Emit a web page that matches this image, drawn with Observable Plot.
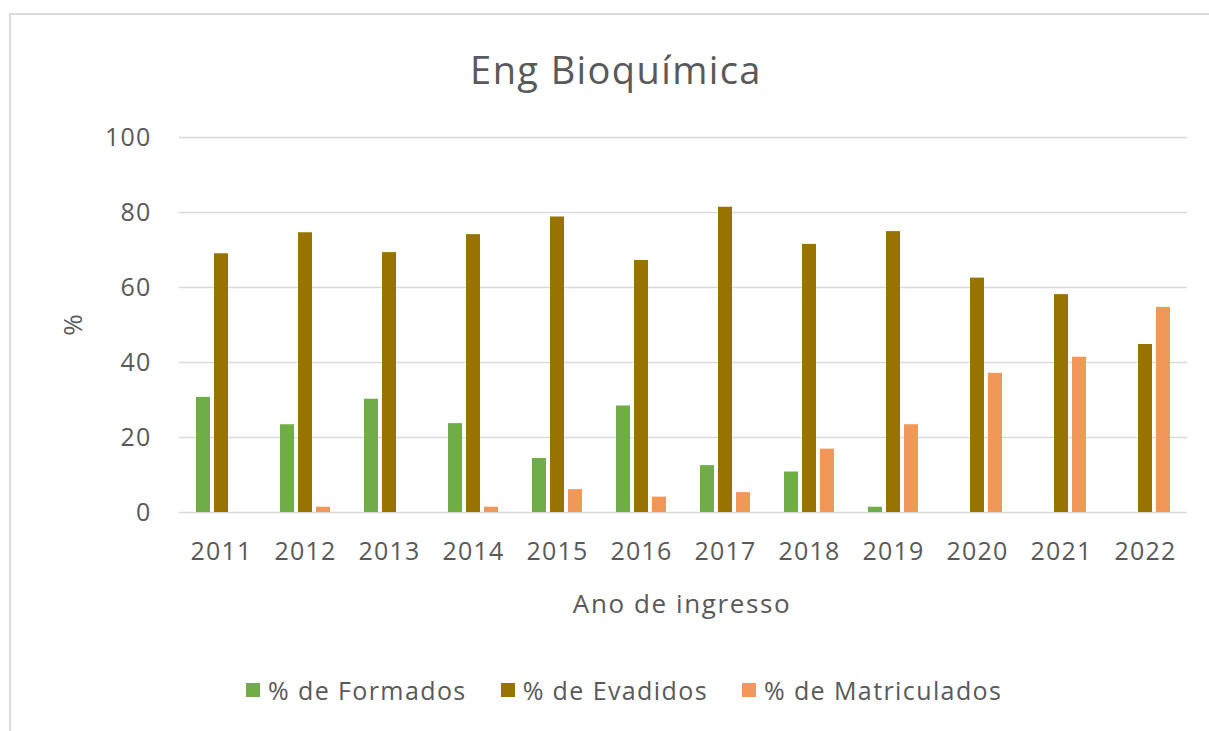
<!DOCTYPE html>
<html>
<head>
<meta charset="utf-8">
<script src="https://cdn.jsdelivr.net/npm/d3@7"></script>
<script src="https://cdn.jsdelivr.net/npm/@observablehq/plot@0.6"></script>
<style>
  html, body { margin: 0; padding: 0; background: #fff; }
  #page { position: relative; width: 1209px; height: 731px; overflow: hidden; font-family: "Open Sans", Lato, sans-serif; color: #595959; }
  #frame { position: absolute; left: 9px; top: 13px; width: 1300px; height: 730px; border: 2px solid #d9d9d9; box-sizing: border-box; }
  #title { position: absolute; left: 616px; top: 69px; font-size: 38px; letter-spacing: 1.4px; transform: translate(-50%, -50%); white-space: nowrap; }
  #chart { position: absolute; left: 0; top: 0; }
  #ylab { position: absolute; left: 72px; top: 325px; font-size: 26px; transform: translate(-50%, -50%) rotate(-90deg); }
  #xlab { position: absolute; left: 682px; top: 603px; font-size: 26px; letter-spacing: 1.6px; transform: translate(-50%, -50%); white-space: nowrap; }
  #legend { position: absolute; top: 690px; left: 246px; display: flex; gap: 34px; transform: translateY(-50%); font-size: 25px; letter-spacing: 1.4px; white-space: nowrap; }
  .item { display: flex; align-items: center; gap: 8px; }
  .sw { width: 14px; height: 14px; display: inline-block; }
</style>
</head>
<body>
<div id="page">
  <div id="frame"></div>
  <div id="chart"></div>
  <div id="title">Eng Bioquímica</div>
  <div id="ylab">%</div>
  <div id="xlab">Ano de ingresso</div>
  <div id="legend"></div>
</div>
<script>
const years = ["2011","2012","2013","2014","2015","2016","2017","2018","2019","2020","2021","2022"];
const series = ["% de Formados", "% de Evadidos", "% de Matriculados"];
const formados =     [30.7, 23.4, 30.2, 23.7, 14.4, 28.4, 12.5, 10.8, 1.4, 0, 0, 0];
const evadidos =     [69.0, 74.6, 69.3, 74.1, 78.8, 67.2, 81.4, 71.5, 74.9, 62.5, 58.1, 44.8];
const matriculados = [0, 1.4, 0, 1.4, 6.1, 4.1, 5.3, 16.9, 23.4, 37.1, 41.4, 54.7];
const yTicks = [0, 20, 40, 60, 80, 100];
const colors = ["#70AD47", "#997300", "#F1975A"];

const valuesBySeries = [formados, evadidos, matriculados];
const data = [];
years.forEach((yr, i) => {
  series.forEach((s, j) => data.push({ year: yr, series: s, value: valuesBySeries[j][i] }));
});

const chart = Plot.plot({
  width: 1209,
  height: 590,
  marginLeft: 178,
  marginRight: 22,
  marginTop: 137,
  marginBottom: 78,
  style: { fontFamily: "'Open Sans', Lato, sans-serif", fontSize: "25px", letterSpacing: "1.2px", color: "#595959", background: "transparent", overflow: "visible" },
  fx: { domain: years, padding: 0, label: null, tickSize: 0, tickPadding: 30 },
  x: { domain: series, paddingInner: 0.222, paddingOuter: 0.944, axis: null },
  y: { domain: [0, 100], ticks: yTicks, tickSize: 0, tickPadding: 28, label: null },
  color: { domain: series, range: colors },
  marks: [
    Plot.ruleY(yTicks, { stroke: "#d9d9d9", strokeWidth: 1.5 }),
    Plot.barY(data, { fx: "year", x: "series", y: "value", fill: "series" })
  ]
});
document.getElementById("chart").appendChild(chart);

const legend = document.getElementById("legend");
series.forEach((s, j) => {
  const item = document.createElement("div");
  item.className = "item";
  const sw = document.createElement("span");
  sw.className = "sw";
  sw.style.background = colors[j];
  const t = document.createElement("span");
  t.textContent = s;
  item.appendChild(sw);
  item.appendChild(t);
  legend.appendChild(item);
});
</script>
</body>
</html>
